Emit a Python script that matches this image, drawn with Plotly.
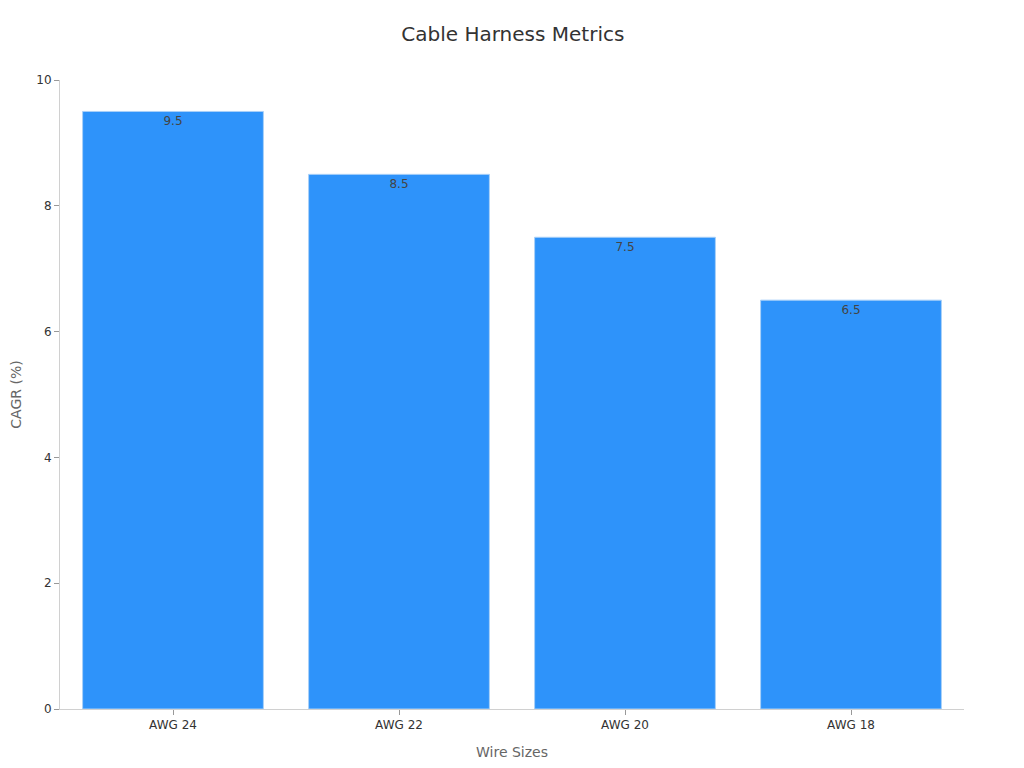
import plotly.graph_objects as go

# Dados do gráfico
wire_sizes = ["AWG 24", "AWG 22", "AWG 20", "AWG 18"]
cagr = [9.5, 8.5, 7.5, 6.5]

fig = go.Figure()
fig.add_trace(go.Bar(
    x=wire_sizes,
    y=cagr,
    text=cagr,
    textposition="inside",
    insidetextanchor="end",
    textfont=dict(color="#444444", size=12),
    marker=dict(color="#2E93FA", line=dict(color="#A9D0F8", width=1)),
))

fig.update_layout(
    width=1024,
    height=768,
    font=dict(family="DejaVu Sans", color="#333333"),
    title=dict(text="Cable Harness Metrics", x=0.493, xanchor="center", y=0.975,
               font=dict(size=20, color="#333333")),
    plot_bgcolor="white",
    paper_bgcolor="white",
    showlegend=False,
    bargap=0.2,
    margin=dict(l=52, r=68, t=72, b=67),
)
fig.update_xaxes(
    title=dict(text="Wire Sizes", font=dict(size=14, color="#666666")),
    showline=True, linecolor="#d0d0d0", linewidth=1,
    ticks="outside", tickcolor="#999999", ticklen=5,
    tickfont=dict(size=12, color="#333333"),
)
fig.update_yaxes(
    title=dict(text="CAGR (%)", font=dict(size=14, color="#666666"), standoff=20),
    range=[0, 10], dtick=2, automargin=False,
    showline=True, linecolor="#d0d0d0", linewidth=1,
    showgrid=False, zeroline=False,
    ticks="outside", tickcolor="#999999", ticklen=5,
    tickfont=dict(size=12, color="#333333"),
)

fig.write_html("out.html")
